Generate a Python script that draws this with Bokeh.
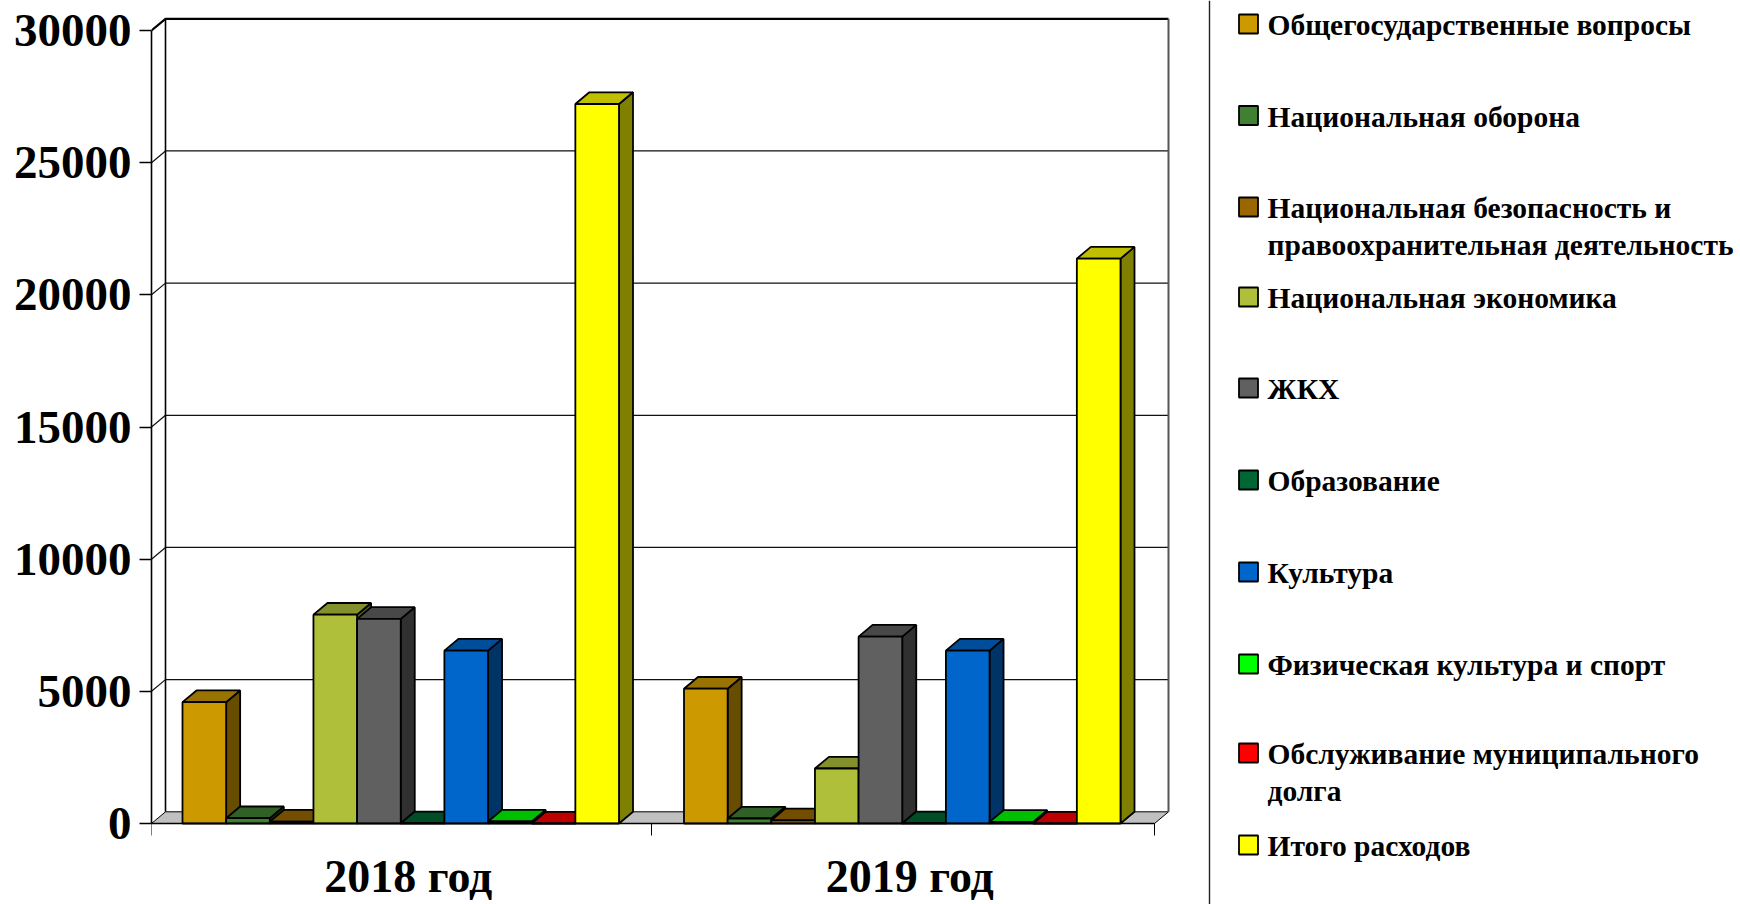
from bokeh.plotting import figure, ColumnDataSource
from bokeh.models import LinearAxis, FixedTicker, Range1d
from bokeh.core.properties import value
from bokeh.embed import file_html
from bokeh.resources import INLINE

# ---- data ----
years = ["2018 год", "2019 год"]
series = ["Общегосударственные вопросы", "Национальная оборона",
          "Национальная безопасность и правоохранительная деятельность",
          "Национальная экономика", "ЖКХ", "Образование", "Культура",
          "Физическая культура и спорт", "Обслуживание муниципального долга",
          "Итого расходов"]
values_2018 = [4590, 200, 70, 7900, 7740, 10, 6540, 75, 0, 27220]
values_2019 = [5100, 190, 120, 2080, 7070, 10, 6540, 60, 0, 21370]
y_ticks = [0, 5000, 10000, 15000, 20000, 25000, 30000]
front_colors = ["#CC9900", "#408033", "#996600", "#B0BF39", "#606060",
                "#006633", "#0066CC", "#00FF00", "#FF0000", "#FFFF00"]
top_colors = ["#997300", "#306026", "#734D00", "#84902B", "#484848",
              "#004D26", "#004D99", "#00BF00", "#BF0000", "#BFBF00"]
side_colors = ["#664D00", "#204019", "#4D3300", "#58601D", "#303030",
               "#00331A", "#003366", "#008000", "#800000", "#808000"]
legend_lines = [["Общегосударственные вопросы"], ["Национальная оборона"],
                ["Национальная безопасность и", "правоохранительная деятельность"],
                ["Национальная экономика"], ["ЖКХ"], ["Образование"], ["Культура"],
                ["Физическая культура и спорт"],
                ["Обслуживание муниципального", "долга"], ["Итого расходов"]]
swatch_tops = [14, 105.5, 197, 287, 378, 470, 562, 654, 743, 835]

# ---- layout, in page pixels ----
PX0, PY0 = 151, 823          # origin of the front plane
CAT_W = 501.5                # pixels per category
K = 793 / 30000              # pixels per unit
W, H = 1740, 904
DX, DY = 14 / CAT_W, 11.7 / K  # depth of the 3D effect, in data units
BAR_W = 43.65 / CAT_W
GAP = 31 / CAT_W

def X(px):
    return (px - PX0) / CAT_W

def Y(py):
    return (PY0 - py) / K

p = figure(width=W, height=H, output_backend="svg", toolbar_location=None,
           x_range=Range1d(0, (W - PX0) / CAT_W), y_range=Range1d(Y(H), Y(0)),
           min_border_left=PX0, min_border_right=0, min_border_top=0, min_border_bottom=0,
           x_axis_type=None, y_axis_type=None, outline_line_color=None)
p.grid.visible = False

# floor
p.patch([0, 2, 2 + DX, DX], [0, 0, DY, DY], fill_color="#C0C0C0", line_color="black", line_width=1)
# back wall, gridlines with their diagonals on the left wall
top = y_ticks[-1]
p.multi_line([[0, DX, 2 + DX] for _ in y_ticks[1:-1]],
             [[t, t + DY, t + DY] for t in y_ticks[1:-1]], line_color="#111111", line_width=1.2)
p.line([0, DX, 2 + DX], [top, top + DY, top + DY], line_color="black", line_width=2.2)
p.line([DX, DX], [DY, top + DY], line_color="black", line_width=1.6)
p.line([2 + DX, 2 + DX], [DY, top + DY], line_color="#555555", line_width=2)

# bars
for c, vals in enumerate([values_2018, values_2019]):
    for i, v in enumerate(vals):
        x0 = c + GAP + i * BAR_W
        x1 = x0 + BAR_W
        p.patch([x1, x1 + DX, x1 + DX, x1], [0, DY, v + DY, v], fill_color=side_colors[i],
                line_color="black", line_width=1.8)
        p.patch([x0, x1, x1 + DX, x0 + DX], [v, v, v + DY, v + DY], fill_color=top_colors[i],
                line_color="black", line_width=1.8)
        p.patch([x0, x1, x1, x0], [0, 0, v, v], fill_color=front_colors[i],
                line_color="black", line_width=1.8)

# axes
yaxis = LinearAxis(ticker=FixedTicker(ticks=y_ticks), bounds=(0, top),
                   major_label_overrides={t: str(t) for t in y_ticks},
                   major_label_text_font="Liberation Serif", major_label_text_font_style="bold",
                   major_label_text_font_size="47px", major_label_text_color="black",
                   major_label_standoff=8, major_tick_out=12, major_tick_in=0,
                   major_tick_line_color="black", major_tick_line_width=1.4,
                   axis_line_color="black", axis_line_width=1.6, minor_tick_line_color=None)
p.add_layout(yaxis, "left")

label_ticks = [c + 0.5 + 6 / CAT_W for c in range(len(years))]
xaxis = LinearAxis(fixed_location=0, bounds=(0, 2),
                   ticker=FixedTicker(ticks=label_ticks, minor_ticks=[0, 1 - 1.5 / CAT_W, 2]),
                   major_label_overrides=dict(zip(label_ticks, years)),
                   major_label_text_font="Liberation Serif", major_label_text_font_style="bold",
                   major_label_text_font_size="46px", major_label_text_color="black",
                   major_label_standoff=15, major_tick_line_color=None,
                   major_tick_out=0, major_tick_in=0,
                   minor_tick_out=12, minor_tick_in=0, minor_tick_line_color="black",
                   minor_tick_line_width=1, axis_line_color="black", axis_line_width=1.6)
p.add_layout(xaxis, "below")

# separator and legend
p.line([X(1209), X(1209)], [Y(0), Y(H)], line_color="#222222", line_width=1.4)

LX0, LX1, TX = 1238.5, 1257.5, 1267
p.quad(left=[X(LX0)] * len(series), right=[X(LX1)] * len(series),
       top=[Y(t) for t in swatch_tops], bottom=[Y(t + 19) for t in swatch_tops],
       fill_color=front_colors, line_color="black", line_width=1.8)

tx, ty, tt = [], [], []
for t0, lines in zip(swatch_tops, legend_lines):
    for j, line in enumerate(lines):
        tx.append(X(TX))
        ty.append(Y(t0 + 10.5 + 36.5 * j))
        tt.append(line)
p.text(x="x", y="y", text="t", source=ColumnDataSource(dict(x=tx, y=ty, t=tt)),
       text_font=value("Liberation Serif"), text_font_style="bold", text_font_size="29.5px",
       text_color="black", text_baseline="alphabetic", text_align="left")

open("out.html", "w").write(file_html(p, INLINE))
